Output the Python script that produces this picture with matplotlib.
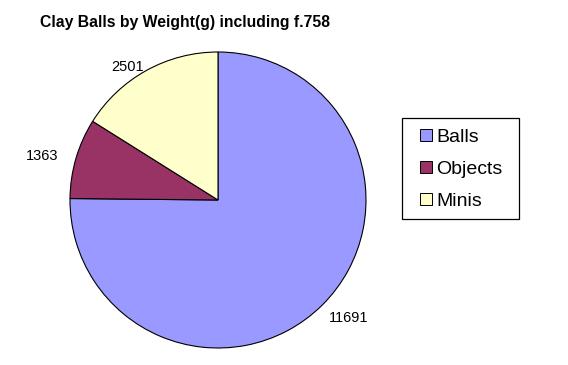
import matplotlib.pyplot as plt
from matplotlib.lines import Line2D
from matplotlib.patches import Rectangle

# data
labels = ["Balls", "Objects", "Minis"]
weights = [11691, 1363, 2501]
colors = ["#9999FF", "#993366", "#FFFFCC"]

plt.rcParams["font.family"] = ["Liberation Sans", "DejaVu Sans"]

W, H = 568, 365
fig = plt.figure(figsize=(W / 100, H / 100), dpi=100)
fig.patch.set_facecolor("white")

# pie axes: center (218,200), radius 148 px
ax = fig.add_axes([70 / W, 17 / H, 296 / W, 296 / H])
wedges, texts = ax.pie(weights, labels=[str(w) for w in weights], colors=colors,
                       startangle=90, counterclock=False, labeldistance=1.06,
                       wedgeprops=dict(edgecolor="black", linewidth=0.8),
                       textprops=dict(fontsize=10.5))
# nudge labels a little toward where Excel puts them
texts[0].set_va("top")
x1, y1 = texts[1].get_position()
texts[1].set_position((x1 - 0.06, y1))
x2, y2 = texts[2].get_position()
texts[2].set_position((x2 + 0.01, y2 - 0.03))
ax.set_xlim(-1, 1)
ax.set_ylim(-1, 1)
ax.set_aspect("equal")

fig.text(40 / W, 1 - 22 / H, "Clay Balls by Weight(g) including f.758",
         fontsize=11.3, fontweight="bold", va="center", ha="left")

# legend box
fig.patches.append(Rectangle((402 / W, 1 - 219 / H), 117 / W, 101 / H,
                             transform=fig.transFigure, facecolor="white",
                             edgecolor="black", linewidth=0.9))
handles = [Line2D([], [], linestyle="none", marker="s", markersize=8,
                  markerfacecolor=c, markeredgecolor="black",
                  markeredgewidth=0.7) for c in colors]
leg = fig.legend(handles, labels, loc="center left",
                 bbox_to_anchor=(418.5 / W, 1 - 169 / H),
                 fontsize=14, frameon=False, handlelength=0.8,
                 handletextpad=0.1, labelspacing=0.75, borderpad=0,
                 borderaxespad=0)

fig.savefig("out.png", dpi=100)
